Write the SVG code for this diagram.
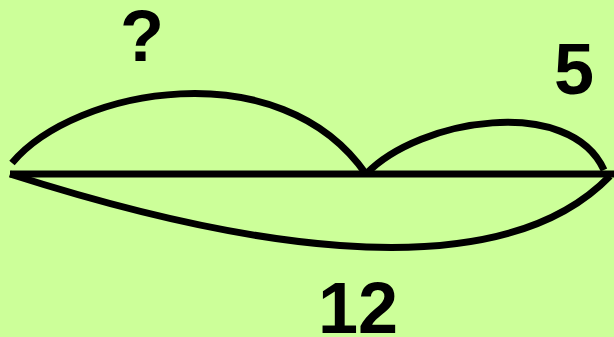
<svg xmlns="http://www.w3.org/2000/svg" width="614" height="337" viewBox="0 0 614 337">
<style>
.ln{fill:none;stroke:#000;stroke-width:7}
.lb{font-family:"Liberation Sans",Arial,sans-serif;font-weight:bold;font-size:72px;fill:#000;text-anchor:middle}
</style>
<rect width="614" height="337" fill="#ccff99"/>
<g id="connectors">
<path class="ln" d="M10,174 L614,174"/>
<path class="ln" d="M12,163 C75,88 280,50 366,174"/>
<path class="ln" d="M366,174 C420,118 570,95 604,170"/>
<path class="ln" d="M10,174 C210,238 490,300 610,176"/>
</g>
<g id="label-q"><text class="lb" x="142" y="61">?</text></g>
<g id="label-5"><text class="lb" x="574" y="94">5</text></g>
<g id="label-12"><text class="lb" x="358" y="333">12</text></g>
</svg>
